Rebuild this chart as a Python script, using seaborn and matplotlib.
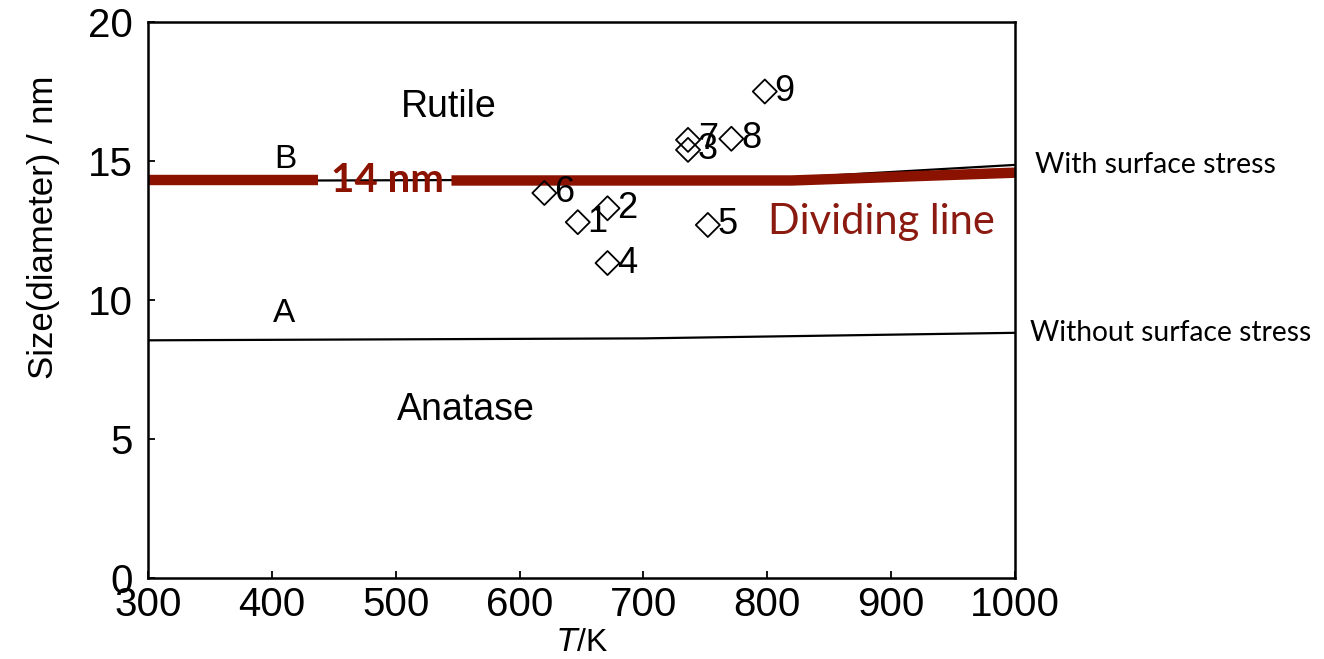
import matplotlib
matplotlib.use("Agg")
import matplotlib.pyplot as plt
import seaborn as sns
import pandas as pd

# Phase boundary curves (critical diameter vs temperature)
line_a_T = [300, 700, 1000]
line_a_d = [8.55, 8.62, 8.82]          # without surface stress
line_b_T = [300, 800, 1000]
line_b_d = [14.28, 14.35, 14.86]       # with surface stress

# Highlighted dividing line (drawn in two pieces around its label)
divide_left_T = [300, 437]
divide_left_d = [14.3, 14.3]
divide_right_T = [545, 820, 1000]
divide_right_d = [14.3, 14.3, 14.58]
divide_value = 14.3

# Experimental transition points
pt_labels = ["1", "2", "3", "4", "5", "6", "7", "8", "9"]
pt_T = [647, 671, 736, 671, 752, 620, 736, 771, 798]
pt_d = [12.8, 13.3, 15.4, 11.33, 12.7, 13.85, 15.76, 15.8, 17.5]

x_ticks = [300, 400, 500, 600, 700, 800, 900, 1000]
y_ticks = [0, 5, 10, 15, 20]

sns.set_theme(style="white")
plt.rcParams["font.family"] = ["Liberation Sans", "DejaVu Sans"]
plt.rcParams["text.color"] = "black"
plt.rcParams["axes.labelcolor"] = "black"

fig = plt.figure(figsize=(13.24, 6.59), dpi=100)
ax = fig.add_axes([0.1118, 0.1229, 0.6548, 0.8437])

dark_red = "#8c1200"
label_font = ["Lato", "DejaVu Sans"]

sns.lineplot(x=line_a_T, y=line_a_d, ax=ax, color="black", linewidth=1.6)
sns.lineplot(x=line_b_T, y=line_b_d, ax=ax, color="black", linewidth=1.6)
sns.lineplot(x=divide_left_T, y=divide_left_d, ax=ax, color=dark_red,
             linewidth=7.5, solid_capstyle="butt")
sns.lineplot(x=divide_right_T, y=divide_right_d, ax=ax, color=dark_red,
             linewidth=7.5, solid_capstyle="butt")

pts = pd.DataFrame({"T": pt_T, "d": pt_d, "label": pt_labels})
sns.scatterplot(data=pts, x="T", y="d", ax=ax, marker="D", s=150,
                facecolor="none", edgecolor="black", linewidth=1.3, zorder=5)
for t, d, lab in zip(pt_T, pt_d, pt_labels):
    ax.text(t + 8, d, lab, fontsize=26, va="center", ha="left", color="black")

# Region and curve labels
ax.text(543, 16.94, "Rutile", fontsize=27, ha="center", va="center")
ax.text(557, 6.04, "Anatase", fontsize=27, ha="center", va="center")
ax.text(411, 15.04, "B", fontsize=24, ha="center", va="center")
ax.text(410, 9.5, "A", fontsize=24, ha="center", va="center")

ax.text(493, divide_value, "14 nm", fontsize=29, fontweight="bold",
        color=dark_red, ha="center", va="center", family=label_font)
ax.text(892, 12.8, "Dividing line", fontsize=30, color="#8b1a10",
        ha="center", va="center", family=label_font)

ax.text(1016, line_b_d[-1], "With surface stress", fontsize=20.4,
        ha="left", va="center", clip_on=False, family=label_font)
ax.text(1012, line_a_d[-1], "Without surface stress", fontsize=20.3,
        ha="left", va="center", clip_on=False, family=label_font)

ax.set_xlim(300, 1000)
ax.set_ylim(0, 20)
ax.set_xticks(x_ticks)
ax.set_yticks(y_ticks)
ax.tick_params(axis="both", direction="in", length=5, width=1.3,
               labelsize=29, colors="black")
ax.tick_params(axis="y", pad=11)
ax.tick_params(axis="x", pad=6)
ax.tick_params(top=False, right=False, bottom=True, left=True)
for sp in ax.spines.values():
    sp.set_color("black")
    sp.set_linewidth(1.8)

ax.set_xlabel(r"$\mathit{T}$/K", fontsize=23)
ax.xaxis.set_label_coords((583 - 148) / 867, -(628 - 578) / 556)
ax.set_ylabel("Size(diameter) / nm", fontsize=25)
ax.yaxis.set_label_coords(-0.101, 0.63)

fig.savefig("out.png", dpi=100, facecolor="white")
